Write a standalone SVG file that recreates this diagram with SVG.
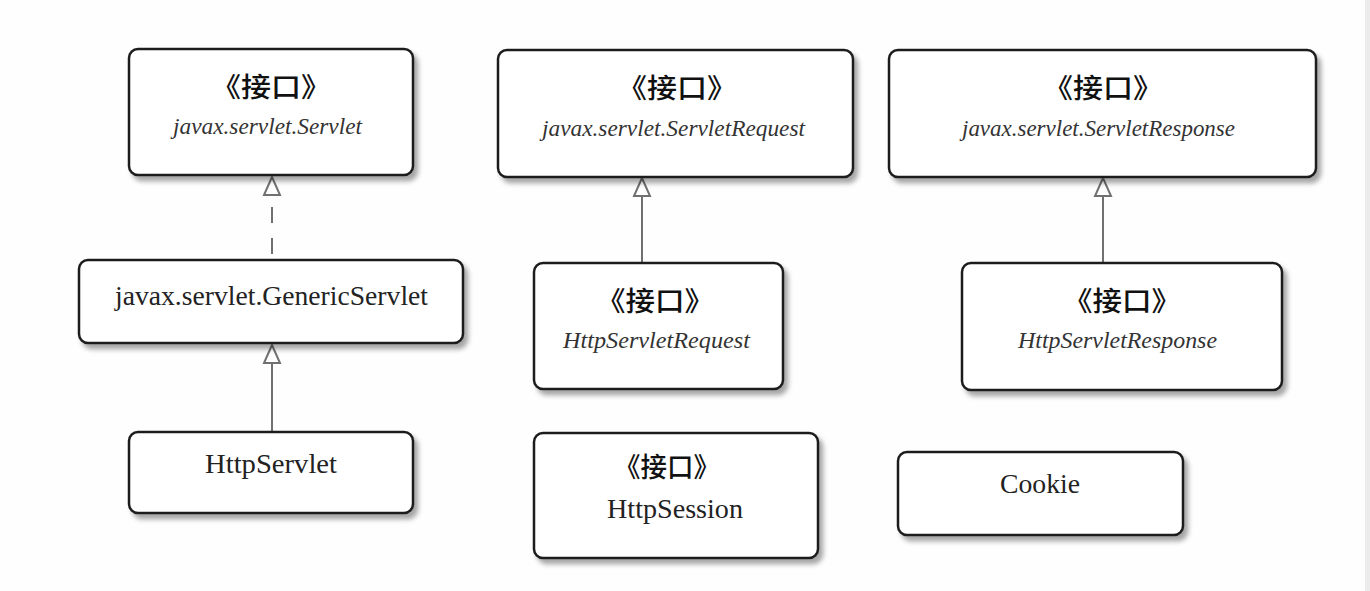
<svg xmlns="http://www.w3.org/2000/svg" width="1370" height="591" viewBox="0 0 1370 591">
<style>
.box{fill:#fff;stroke:#1e1e1e;stroke-width:2.5;filter:url(#sh)}
.cn{font-family:"Noto Sans CJK SC","Noto Sans CJK JP",sans-serif;font-size:27px;font-weight:500;fill:#111;text-anchor:middle}
.it{font-family:"Liberation Serif",serif;font-style:italic;font-size:24px;fill:#333}
.rg{font-family:"Liberation Serif",serif;font-size:27px;fill:#222}
.ln{stroke:#707070;stroke-width:2;fill:none}
.dash{stroke-dasharray:16 15}
</style>
<defs>
<filter id="sh" x="-10%" y="-10%" width="130%" height="140%">
<feDropShadow dx="4" dy="5" stdDeviation="2.5" flood-color="#000" flood-opacity="0.35"/>
</filter>
<marker id="tri" viewBox="0 0 20 20" refX="19" refY="10" markerWidth="20" markerHeight="20" markerUnits="userSpaceOnUse" orient="auto-start-reverse">
<path d="M19 10 L1 2 L1 18 Z" fill="#fff" stroke="#707070" stroke-width="2"/>
</marker>
</defs>
<rect x="0" y="0" width="1370" height="591" fill="#fefefe"/>
<rect x="1365" y="0" width="5" height="591" fill="#ececec"/>

<g id="connectors">
<path d="M272 177 L272 195" stroke="none" fill="none" marker-start="url(#tri)"/>
<line class="ln dash" x1="272" y1="207" x2="272" y2="260"/>
<line class="ln" x1="272" y1="345" x2="272" y2="432" marker-start="url(#tri)"/>
<line class="ln" x1="642" y1="178" x2="642" y2="263" marker-start="url(#tri)"/>
<line class="ln" x1="1103" y1="178" x2="1103" y2="263" marker-start="url(#tri)"/>
</g>

<g id="servlet">
<rect class="box" x="129" y="49" width="284" height="126" rx="9"/>
<text class="cn" x="271" y="97" textLength="120" lengthAdjust="spacingAndGlyphs">《接口》</text>
<text class="it" x="173" y="134" textLength="189" lengthAdjust="spacingAndGlyphs">javax.servlet.Servlet</text>
</g>

<g id="genericServlet">
<rect class="box" x="79" y="260" width="384" height="83" rx="9"/>
<text class="rg" x="115" y="305" textLength="313" lengthAdjust="spacingAndGlyphs">javax.servlet.GenericServlet</text>
</g>

<g id="httpServlet">
<rect class="box" x="129" y="432" width="284" height="81" rx="9"/>
<text class="rg" x="205" y="473" textLength="132" lengthAdjust="spacingAndGlyphs">HttpServlet</text>
</g>

<g id="servletRequest">
<rect class="box" x="498" y="50" width="355" height="127" rx="9"/>
<text class="cn" x="677" y="98" textLength="120" lengthAdjust="spacingAndGlyphs">《接口》</text>
<text class="it" x="542" y="136" textLength="263" lengthAdjust="spacingAndGlyphs">javax.servlet.ServletRequest</text>
</g>

<g id="servletResponse">
<rect class="box" x="889" y="50" width="427" height="127" rx="9"/>
<text class="cn" x="1103" y="98" textLength="120" lengthAdjust="spacingAndGlyphs">《接口》</text>
<text class="it" x="962" y="136" textLength="273" lengthAdjust="spacingAndGlyphs">javax.servlet.ServletResponse</text>
</g>

<g id="httpServletRequest">
<rect class="box" x="534" y="263" width="249" height="126" rx="9"/>
<text class="cn" x="655" y="311" textLength="118" lengthAdjust="spacingAndGlyphs">《接口》</text>
<text class="it" x="563" y="348" textLength="187" lengthAdjust="spacingAndGlyphs">HttpServletRequest</text>
</g>

<g id="httpServletResponse">
<rect class="box" x="962" y="263" width="320" height="127" rx="9"/>
<text class="cn" x="1122" y="311" textLength="118" lengthAdjust="spacingAndGlyphs">《接口》</text>
<text class="it" x="1018" y="348" textLength="199" lengthAdjust="spacingAndGlyphs">HttpServletResponse</text>
</g>

<g id="httpSession">
<rect class="box" x="534" y="433" width="284" height="125" rx="9"/>
<text class="cn" x="667" y="477" textLength="106" lengthAdjust="spacingAndGlyphs">《接口》</text>
<text class="rg" x="607" y="518" textLength="136" lengthAdjust="spacingAndGlyphs">HttpSession</text>
</g>

<g id="cookie">
<rect class="box" x="898" y="452" width="285" height="83" rx="9"/>
<text class="rg" x="1000" y="493" textLength="80" lengthAdjust="spacingAndGlyphs">Cookie</text>
</g>
</svg>
